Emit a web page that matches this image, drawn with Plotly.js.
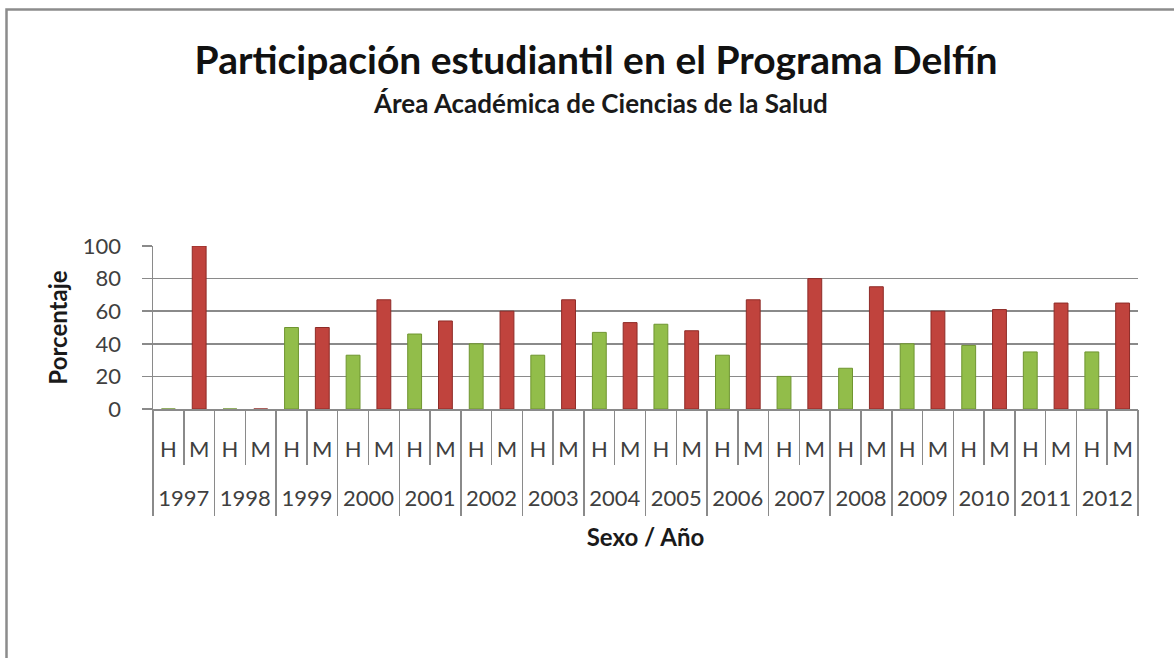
<!DOCTYPE html>
<html>
<head>
<meta charset="utf-8">
<script src="https://cdn.plot.ly/plotly-3.0.1.min.js"></script>
<style>html,body{margin:0;padding:0;background:#fff;}#chart{width:1174px;height:658px;}</style>
</head>
<body>
<div id="chart"></div>
<script>
const years = ["1997","1998","1999","2000","2001","2002","2003","2004","2005","2006","2007","2008","2009","2010","2011","2012"];
const hombres = [0, 0, 50, 33, 46, 40, 33, 47, 52, 33, 20, 25, 40, 39, 35, 35];
const mujeres = [100, 0, 50, 67, 54, 60, 67, 53, 48, 67, 80, 75, 60, 61, 65, 65];
const sexLabels = ["H", "M"];
const yTicks = [0, 20, 40, 60, 80, 100];

const keys = [], inner = [], vals = [], colors = [], lines = [];
years.forEach((y, i) => {
  sexLabels.forEach((s, j) => {
    keys.push(y + " " + s);
    inner.push(s);
    vals.push(j === 0 ? hombres[i] : mujeres[i]);
    colors.push(j === 0 ? '#92bd4a' : '#c0433d');
    lines.push(j === 0 ? '#6f9530' : '#8e2b27');
  });
});
const yearCenters = years.map((_, i) => i + 0.5);
const yearBounds = years.map((_, i) => i).concat([years.length]);

const font = "Lato, Carlito, Open Sans, sans-serif";
const grey = '#8a8a8a';

const bars = {
  type: 'bar',
  x: keys,
  y: vals,
  marker: {color: colors, line: {color: lines, width: 1}},
  hoverinfo: 'x+y'
};
// empty helper trace so the year axis (x2) is created and drawn
const yearAxisHolder = {type: 'scatter', mode: 'none', x: [], y: [], xaxis: 'x2', yaxis: 'y', showlegend: false, hoverinfo: 'skip'};

const L = 153, R = 1138, T = 246, B = 409;
const pw = R - L, ph = B - T;
const px = v => (v - L) / pw;
const py = v => (B - v) / ph;

const layout = {
  width: 1174, height: 658,
  margin: {l: L, r: 1174 - R, t: T, b: 658 - B},
  paper_bgcolor: '#ffffff', plot_bgcolor: '#ffffff',
  showlegend: false,
  bargap: 0.55,
  font: {family: font, color: '#404040'},
  title: {
    text: 'Participación estudiantil en el Programa Delfín',
    font: {family: font, size: 39, color: '#111111', weight: 'bold'},
    xref: 'container', x: 596 / 1174, xanchor: 'center',
    yref: 'container', y: 1 - 60 / 658, yanchor: 'middle'
  },
  annotations: [{
    text: 'Área Académica de Ciencias de la Salud',
    xref: 'paper', yref: 'paper', x: px(600), y: py(103),
    xanchor: 'center', yanchor: 'middle', showarrow: false,
    font: {family: font, size: 26, color: '#1a1a1a', weight: 'bold'}
  }],
  xaxis: {
    type: 'category',
    tickmode: 'array', tickvals: keys, ticktext: inner,
    showline: true, linecolor: grey, linewidth: 1.5,
    ticks: 'outside', tickson: 'boundaries', ticklen: 54, tickcolor: grey, tickwidth: 1.5,
    ticklabelstandoff: 20,
    tickfont: {family: font, size: 22, color: '#404040'},
    showgrid: false
  },
  xaxis2: {
    type: 'linear',
    overlaying: 'x', anchor: 'y', side: 'bottom',
    range: [0, years.length],
    tickmode: 'array', tickvals: yearCenters, ticktext: years,
    ticks: '', showgrid: false, zeroline: false, showline: false,
    minor: {tickmode: 'array', tickvals: yearBounds, ticks: 'outside', ticklen: 106, tickcolor: grey, tickwidth: 1.5, showgrid: false},
    ticklabelstandoff: 74,
    tickfont: {family: font, size: 22, color: '#404040'},
    title: {text: 'Sexo / Año', font: {family: font, size: 24, color: '#1a1a1a', weight: 'bold'}, standoff: 19}
  },
  yaxis: {
    range: [0, 100],
    tickvals: yTicks,
    showline: true, linecolor: grey, linewidth: 1.5,
    ticks: 'outside', ticklen: 10, tickcolor: grey, tickwidth: 1.5,
    ticklabelstandoff: 16,
    gridcolor: grey, gridwidth: 1.5,
    zeroline: false,
    tickfont: {family: font, size: 22, color: '#404040'},
    title: {text: 'Porcentaje', font: {family: font, size: 24, color: '#1a1a1a', weight: 'bold'}, standoff: 8}
  },
  shapes: [{
    type: 'rect', xref: 'paper', yref: 'paper',
    x0: px(6.5), y0: py(9.5), x1: px(1185), y1: py(670),
    line: {color: '#8c8c8c', width: 2.5}, fillcolor: 'rgba(0,0,0,0)', layer: 'below'
  }]
};

Plotly.newPlot('chart', [bars, yearAxisHolder], layout, {displayModeBar: false, staticPlot: true});
</script>
</body>
</html>
